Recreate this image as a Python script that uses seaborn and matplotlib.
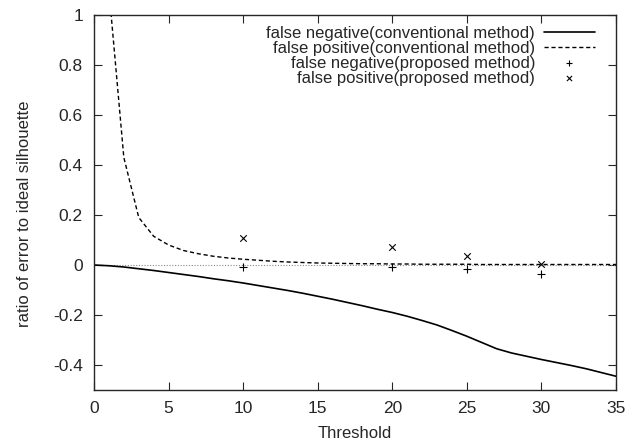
import pandas as pd
import matplotlib
matplotlib.use("Agg")
import matplotlib.pyplot as plt
import seaborn as sns

sns.set_style("ticks")
plt.rcParams['font.family'] = ['Liberation Sans', 'DejaVu Sans']
plt.rcParams['axes.unicode_minus'] = False

# === Data ===
thresholds = list(range(0, 36))
fn_conventional = [0.0, -0.003, -0.008, -0.015, -0.022, -0.030, -0.038, -0.046, -0.055, -0.063,
                   -0.072, -0.082, -0.092, -0.102, -0.113, -0.125, -0.137, -0.150, -0.163, -0.177,
                   -0.190, -0.205, -0.222, -0.240, -0.262, -0.285, -0.310, -0.335, -0.352, -0.365,
                   -0.378, -0.390, -0.402, -0.415, -0.430, -0.445]
fp_thresholds = list(range(1, 36))
fp_conventional = [1.10, 0.43, 0.19, 0.115, 0.080, 0.058, 0.045, 0.035, 0.028, 0.023,
                   0.019, 0.015, 0.012, 0.010, 0.008, 0.007, 0.006, 0.005, 0.005, 0.004,
                   0.004, 0.003, 0.003, 0.003, 0.003, 0.002, 0.002, 0.002, 0.002, 0.002,
                   0.002, 0.002, 0.002, 0.002, 0.002]
proposed_thresholds = [10, 20, 25, 30]
fn_proposed = [-0.007, -0.009, -0.015, -0.037]
fp_proposed = [0.11, 0.073, 0.036, 0.006]

conv_fn = pd.DataFrame({'t': thresholds, 'v': fn_conventional})
conv_fp = pd.DataFrame({'t': fp_thresholds, 'v': fp_conventional})
prop = pd.DataFrame({'t': proposed_thresholds, 'fn': fn_proposed, 'fp': fp_proposed})

fig = plt.figure(figsize=(6.41, 4.43), dpi=100)
ax = fig.add_axes([94 / 641, 53 / 443, 522 / 641, 375 / 443])

ax.axhline(0, color='#888888', ls=(0, (1, 1.5)), lw=0.8, zorder=1)
sns.lineplot(data=conv_fn, x='t', y='v', ax=ax, color='black', lw=1.2,
             label='false negative(conventional method)')
sns.lineplot(data=conv_fp, x='t', y='v', ax=ax, color='black', lw=1.0,
             linestyle=(0, (3, 2)), label='false positive(conventional method)')
sns.scatterplot(data=prop, x='t', y='fn', ax=ax, marker='+', color='black', s=30,
                linewidth=0.8, label='false negative(proposed method)')
sns.scatterplot(data=prop, x='t', y='fp', ax=ax, marker='x', color='black', s=22,
                linewidth=0.8, label='false positive(proposed method)')

ax.set_xlim(0, 35)
ax.set_ylim(-0.5, 1)
ax.set_xticks(range(0, 36, 5))
ax.set_yticks([-0.4, -0.2, 0, 0.2, 0.4, 0.6, 0.8, 1])
ax.set_yticklabels(['-0.4', '-0.2', '0', '0.2', '0.4', '0.6', '0.8', '1'])
ax.tick_params(direction='in', top=True, right=True, length=6, width=0.8,
               labelsize=12.5, pad=8)
for sp in ax.spines.values():
    sp.set_linewidth(1.0)
ax.set_xlabel('Threshold', fontsize=12, labelpad=7)
ax.set_ylabel('ratio of error to ideal silhouette', fontsize=12)
ax.yaxis.set_label_coords(-0.118, 0.47)

leg = ax.legend(loc='upper right', bbox_to_anchor=(1 - 10 / 522, 1), frameon=False,
                markerfirst=False, fontsize=12,
                handlelength=3.1, handletextpad=0.5, labelspacing=0.0,
                borderaxespad=0.3, borderpad=0.35)
for h in leg.legend_handles[2:]:
    h.set_sizes([14])

fig.savefig('out.png', dpi=100)
